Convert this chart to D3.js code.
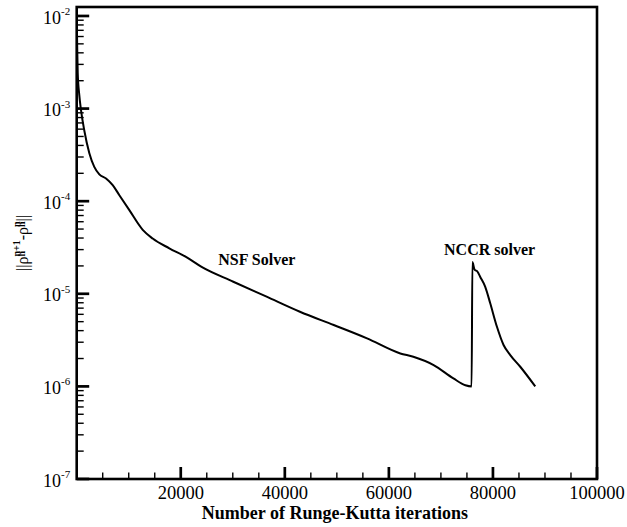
<!DOCTYPE html>
<html>
<head>
<meta charset="utf-8">
<script src="https://cdn.jsdelivr.net/npm/d3@7"></script>
<style>
  body { margin: 0; background: #fff; }
  svg { display: block; }
</style>
</head>
<body>
<script>
// Density residual history: NSF solver run, then restart with the NCCR solver
const iterations = [
  0, 100, 200, 500, 830, 1460, 2430, 3380, 4350, 5640, 6920, 8200, 10120,
  12690, 14600, 17800, 21000, 24000, 30100, 36500, 42900, 49400, 55800,
  62200, 64700, 68600, 72400, 74700, 75900,
  76050, 76460, 77040, 77560, 78520, 79480, 80770, 82040, 83330, 85250, 88130
];
const residuals = [
  1.1e-2, 4.5e-3, 2.4e-3, 1.4e-3, 9.6e-4, 5.8e-4, 3.3e-4, 2.35e-4, 1.95e-4,
  1.76e-4, 1.49e-4, 1.16e-4, 8.0e-5, 4.9e-5, 3.95e-5, 3.1e-5, 2.5e-5, 1.95e-5,
  1.35e-5, 9.3e-6, 6.4e-6, 4.6e-6, 3.3e-6, 2.27e-6, 2.09e-6, 1.70e-6, 1.22e-6,
  1.03e-6, 1.0e-6,
  2.2e-5, 1.83e-5, 1.73e-5, 1.52e-5, 1.19e-5, 7.9e-6, 4.4e-6, 2.8e-6, 2.18e-6,
  1.63e-6, 1.0e-6
];

const xMajorTicks = [20000, 40000, 60000, 80000, 100000];
const xMinorTicks = [5000, 10000, 15000, 25000, 30000, 35000, 45000, 50000,
  55000, 65000, 70000, 75000, 85000, 90000, 95000];
const yDecadeExponents = [-7, -6, -5, -4, -3, -2];
const yMinorMantissas = [2, 3, 4, 5, 6, 7, 8, 9];

const xTitle = "Number of Runge-Kutta iterations";
const solverLabels = ["NSF Solver", "NCCR solver"];
const solverLabelAt = [[27200, 2.04e-5], [70600, 2.61e-5]];

const W = 627, H = 527;
const SERIF = "'Liberation Serif', 'Times New Roman', Times, serif";

const svg = d3.select("body").append("svg")
  .attr("width", W).attr("height", H);

const plotLeft = 76.7, plotRight = 597, plotTop = 7, plotBottom = 479;

const x = d3.scaleLinear().domain([0, 100000]).range([plotLeft, plotRight]);
const y = d3.scaleLog().domain([1e-7, 0.0125]).range([plotBottom, plotTop]);

// clip so the start of the curve stays inside the frame
svg.append("defs").append("clipPath").attr("id", "plot-area")
  .append("rect")
  .attr("x", plotLeft).attr("y", plotTop)
  .attr("width", plotRight - plotLeft).attr("height", plotBottom - plotTop);

// residual curve
const points = iterations.map((it, i) => [it, residuals[i]]);
svg.append("path")
  .datum(points)
  .attr("clip-path", "url(#plot-area)")
  .attr("fill", "none")
  .attr("stroke", "#000")
  .attr("stroke-width", 2)
  .attr("stroke-linejoin", "round")
  .attr("d", d3.line()
    .x(d => x(d[0]))
    .y(d => y(d[1]))
    .curve(d3.curveMonotoneX));

// tick positions
const yMinorTicks = [];
yDecadeExponents.slice(0, -1).forEach(k => {
  yMinorMantissas.forEach(m => yMinorTicks.push(m * Math.pow(10, k)));
});
const yMajorTicks = yDecadeExponents.map(k => Math.pow(10, k));

// inward tick marks as thin filled bars
const tickLayer = svg.append("g").attr("class", "tick-marks");
function xTicks(cls, values, len, w) {
  tickLayer.selectAll("rect." + cls).data(values).join("rect")
    .attr("class", cls)
    .attr("x", d => x(d) - w / 2).attr("y", plotBottom - len)
    .attr("width", w).attr("height", len)
    .style("fill", "#000");
}
function yTicks(cls, values, len, w) {
  tickLayer.selectAll("rect." + cls).data(values).join("rect")
    .attr("class", cls)
    .attr("x", plotLeft).attr("y", d => y(d) - w / 2)
    .attr("width", len).attr("height", w)
    .style("fill", "#000");
}
xTicks("xminor", xMinorTicks, 6.5, 1.4);
xTicks("xmajor", xMajorTicks, 12, 2.7);
yTicks("yminor", yMinorTicks, 7, 1.4);
yTicks("ymajor", yMajorTicks, 12.5, 2.7);

// x tick labels
svg.selectAll("text.xlabel").data(xMajorTicks).join("text")
  .attr("class", "xlabel")
  .attr("x", d => x(d)).attr("y", plotBottom + 19.5)
  .attr("text-anchor", "middle")
  .style("font-family", SERIF).style("font-size", "18.5px")
  .text(d => d3.format("d")(d));

// y tick labels as 10^k
const yLabels = svg.selectAll("text.ylabel").data(yDecadeExponents).join("text")
  .attr("class", "ylabel")
  .attr("x", plotLeft - 6.5)
  .attr("y", d => y(Math.pow(10, d)) + 7.7)
  .attr("text-anchor", "end")
  .style("font-family", SERIF).style("font-size", "18px");
yLabels.append("tspan").text("10");
yLabels.append("tspan").attr("dy", -8.7).style("font-size", "11px").text(d => String(d));

// frame
svg.append("rect")
  .attr("x", plotLeft).attr("y", plotTop)
  .attr("width", plotRight - plotLeft).attr("height", plotBottom - plotTop)
  .attr("fill", "none").attr("stroke", "#000").attr("stroke-width", 2.6);

// x axis title
svg.append("text")
  .attr("x", (plotLeft + plotRight) / 2 - 2).attr("y", 518.5)
  .attr("text-anchor", "middle")
  .style("font-family", SERIF).style("font-size", "18px").style("font-weight", "bold")
  .text(xTitle);

// y axis title: ||rho_h^{n+1} - rho_h^n||
const yt = svg.append("text")
  .attr("transform", `translate(28,${(plotTop + plotBottom) / 2}) rotate(-90)`)
  .attr("text-anchor", "middle")
  .style("font-family", SERIF).style("font-size", "16px");
yt.append("tspan").text("||ρ");
yt.append("tspan").attr("dy", -3).style("font-size", "10px").style("font-weight", "bold").text("h");
yt.append("tspan").attr("dx", -5.6).attr("dy", -5.5).style("font-size", "10px").style("font-weight", "bold").text("n+1");
yt.append("tspan").attr("dy", 8.5).text("-ρ");
yt.append("tspan").attr("dy", -3).style("font-size", "10px").style("font-weight", "bold").text("h");
yt.append("tspan").attr("dx", -5.6).attr("dy", -5.5).style("font-size", "10px").style("font-weight", "bold").text("n");
yt.append("tspan").attr("dy", 8.5).text("||");

// solver annotations
svg.selectAll("text.solver")
  .data(solverLabels)
  .join("text")
  .attr("class", "solver")
  .attr("x", (d, i) => x(solverLabelAt[i][0]))
  .attr("y", (d, i) => y(solverLabelAt[i][1]))
  .style("font-family", SERIF).style("font-size", "16px").style("font-weight", "bold")
  .text(d => d);
</script>
</body>
</html>
